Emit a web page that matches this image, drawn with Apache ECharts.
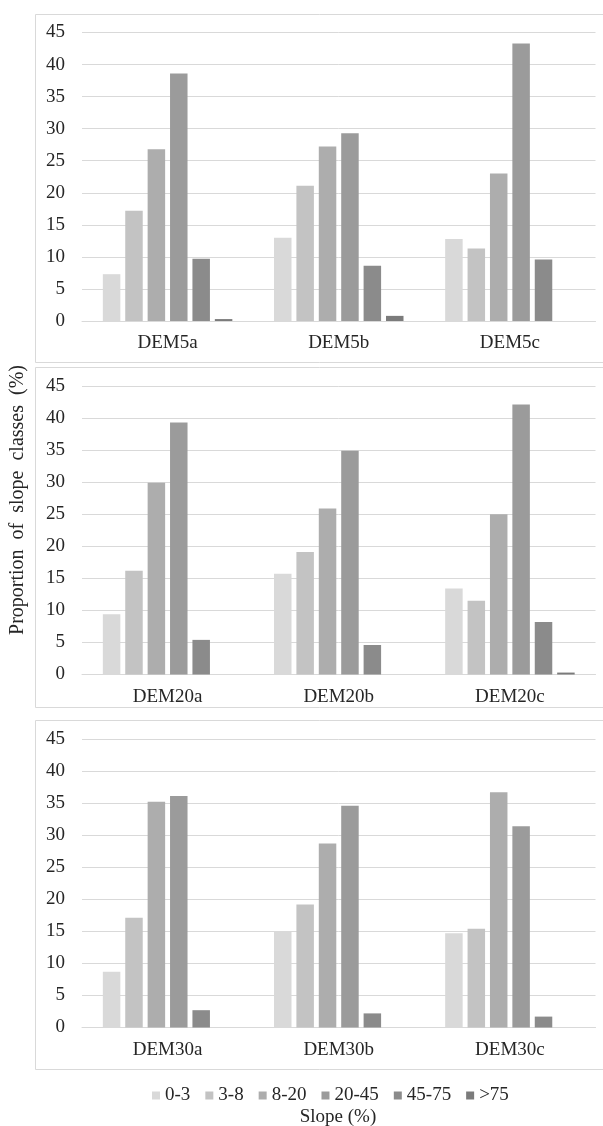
<!DOCTYPE html>
<html>
<head>
<meta charset="utf-8">
<script src="https://cdn.jsdelivr.net/npm/echarts@6/dist/echarts.min.js"></script>
<style>
html,body{margin:0;padding:0;background:#fff;}
#chart{width:603px;height:1126px;}
</style>
</head>
<body>
<div id="chart"></div>
<script>
// Data
const slopeClasses = ['0-3', '3-8', '8-20', '20-45', '45-75', '>75'];
const catsDEM5 = ['DEM5a', 'DEM5b', 'DEM5c'];
const catsDEM20 = ['DEM20a', 'DEM20b', 'DEM20c'];
const catsDEM30 = ['DEM30a', 'DEM30b', 'DEM30c'];
// values per slope class, order: [a, b, c]
const dem5_0_3   = [7.3, 13.0, 12.8];
const dem5_3_8   = [17.2, 21.1, 11.3];
const dem5_8_20  = [26.8, 27.2, 23.0];
const dem5_20_45 = [38.6, 29.3, 43.3];
const dem5_45_75 = [9.7, 8.6, 9.6];
const dem5_gt75  = [0.3, 0.8, 0];

const dem20_0_3   = [9.4, 15.7, 13.4];
const dem20_3_8   = [16.2, 19.1, 11.5];
const dem20_8_20  = [29.9, 25.9, 25.0];
const dem20_20_45 = [39.3, 34.9, 42.1];
const dem20_45_75 = [5.4, 4.6, 8.2];
const dem20_gt75  = [0, 0, 0.3];

const dem30_0_3   = [8.7, 15.0, 14.7];
const dem30_3_8   = [17.1, 19.2, 15.4];
const dem30_8_20  = [35.2, 28.7, 36.7];
const dem30_20_45 = [36.1, 34.6, 31.4];
const dem30_45_75 = [2.7, 2.2, 1.7];
const dem30_gt75  = [0, 0, 0];

const yTicks = { min: 0, max: 45, interval: 5 };
const colors = ['#d9d9d9', '#c3c3c3', '#adadad', '#9b9b9b', '#8b8b8b', '#7b7b7b'];

const panels = [
  { cats: catsDEM5,  vals: [dem5_0_3, dem5_3_8, dem5_8_20, dem5_20_45, dem5_45_75, dem5_gt75],  top: 32.5 },
  { cats: catsDEM20, vals: [dem20_0_3, dem20_3_8, dem20_8_20, dem20_20_45, dem20_45_75, dem20_gt75], top: 386 },
  { cats: catsDEM30, vals: [dem30_0_3, dem30_3_8, dem30_8_20, dem30_20_45, dem30_45_75, dem30_gt75], top: 739 }
];
const gridH = 288.5;
const font = '"Liberation Serif", "DejaVu Serif", serif';

const grids = [], xAxes = [], yAxes = [], series = [];
panels.forEach((p, i) => {
  grids.push({ left: 82, right: 7.5, top: p.top, height: gridH, containLabel: false });
  xAxes.push({
    type: 'category', gridIndex: i, data: p.cats,
    axisLine: { show: true, lineStyle: { color: '#d9d9d9', width: 1 } },
    axisTick: { show: false },
    axisLabel: { color: '#262626', fontFamily: font, fontSize: 19, margin: 13 }
  });
  yAxes.push({
    type: 'value', gridIndex: i, min: yTicks.min, max: yTicks.max, interval: yTicks.interval,
    axisLine: { show: false }, axisTick: { show: false },
    splitLine: { lineStyle: { color: '#d9d9d9', width: 1 } },
    axisLabel: { color: '#262626', fontFamily: font, fontSize: 19, margin: 17 }
  });
  p.vals.forEach((v, k) => {
    series.push({
      type: 'bar', name: slopeClasses[k], xAxisIndex: i, yAxisIndex: i,
      data: v, barWidth: 17.5, barGap: '28%',
      itemStyle: { color: colors[k] }, animation: false
    });
  });
});

const chart = echarts.init(document.getElementById('chart'), null, { renderer: 'canvas' });
chart.setOption({
  animation: false,
  backgroundColor: '#fff',
  color: colors,
  grid: grids,
  xAxis: xAxes,
  yAxis: yAxes,
  series: series,
  legend: {
    data: slopeClasses,
    top: 1081, left: 147,
    icon: 'rect', itemWidth: 8, itemHeight: 8, itemGap: 15,
    textStyle: { color: '#262626', fontFamily: font, fontSize: 19 },
    selectedMode: false
  },
  graphic: [
    { type: 'rect', shape: { x: 35.5, y: 14.5, width: 600, height: 348 }, style: { fill: 'none', stroke: '#d9d9d9', lineWidth: 1 }, silent: true },
    { type: 'rect', shape: { x: 35.5, y: 367.5, width: 600, height: 340 }, style: { fill: 'none', stroke: '#d9d9d9', lineWidth: 1 }, silent: true },
    { type: 'rect', shape: { x: 35.5, y: 720.5, width: 600, height: 349 }, style: { fill: 'none', stroke: '#d9d9d9', lineWidth: 1 }, silent: true },
    { type: 'text', x: 18, y: 500, rotation: Math.PI / 2,
      style: { text: 'Proportion  of  slope  classes  (%)', font: '20px ' + font, fill: '#262626', textAlign: 'center', textVerticalAlign: 'middle' }, silent: true },
    { type: 'text', x: 338, y: 1117,
      style: { text: 'Slope (%)', font: '19px ' + font, fill: '#262626', textAlign: 'center', textVerticalAlign: 'middle' }, silent: true }
  ]
});
</script>
</body>
</html>
